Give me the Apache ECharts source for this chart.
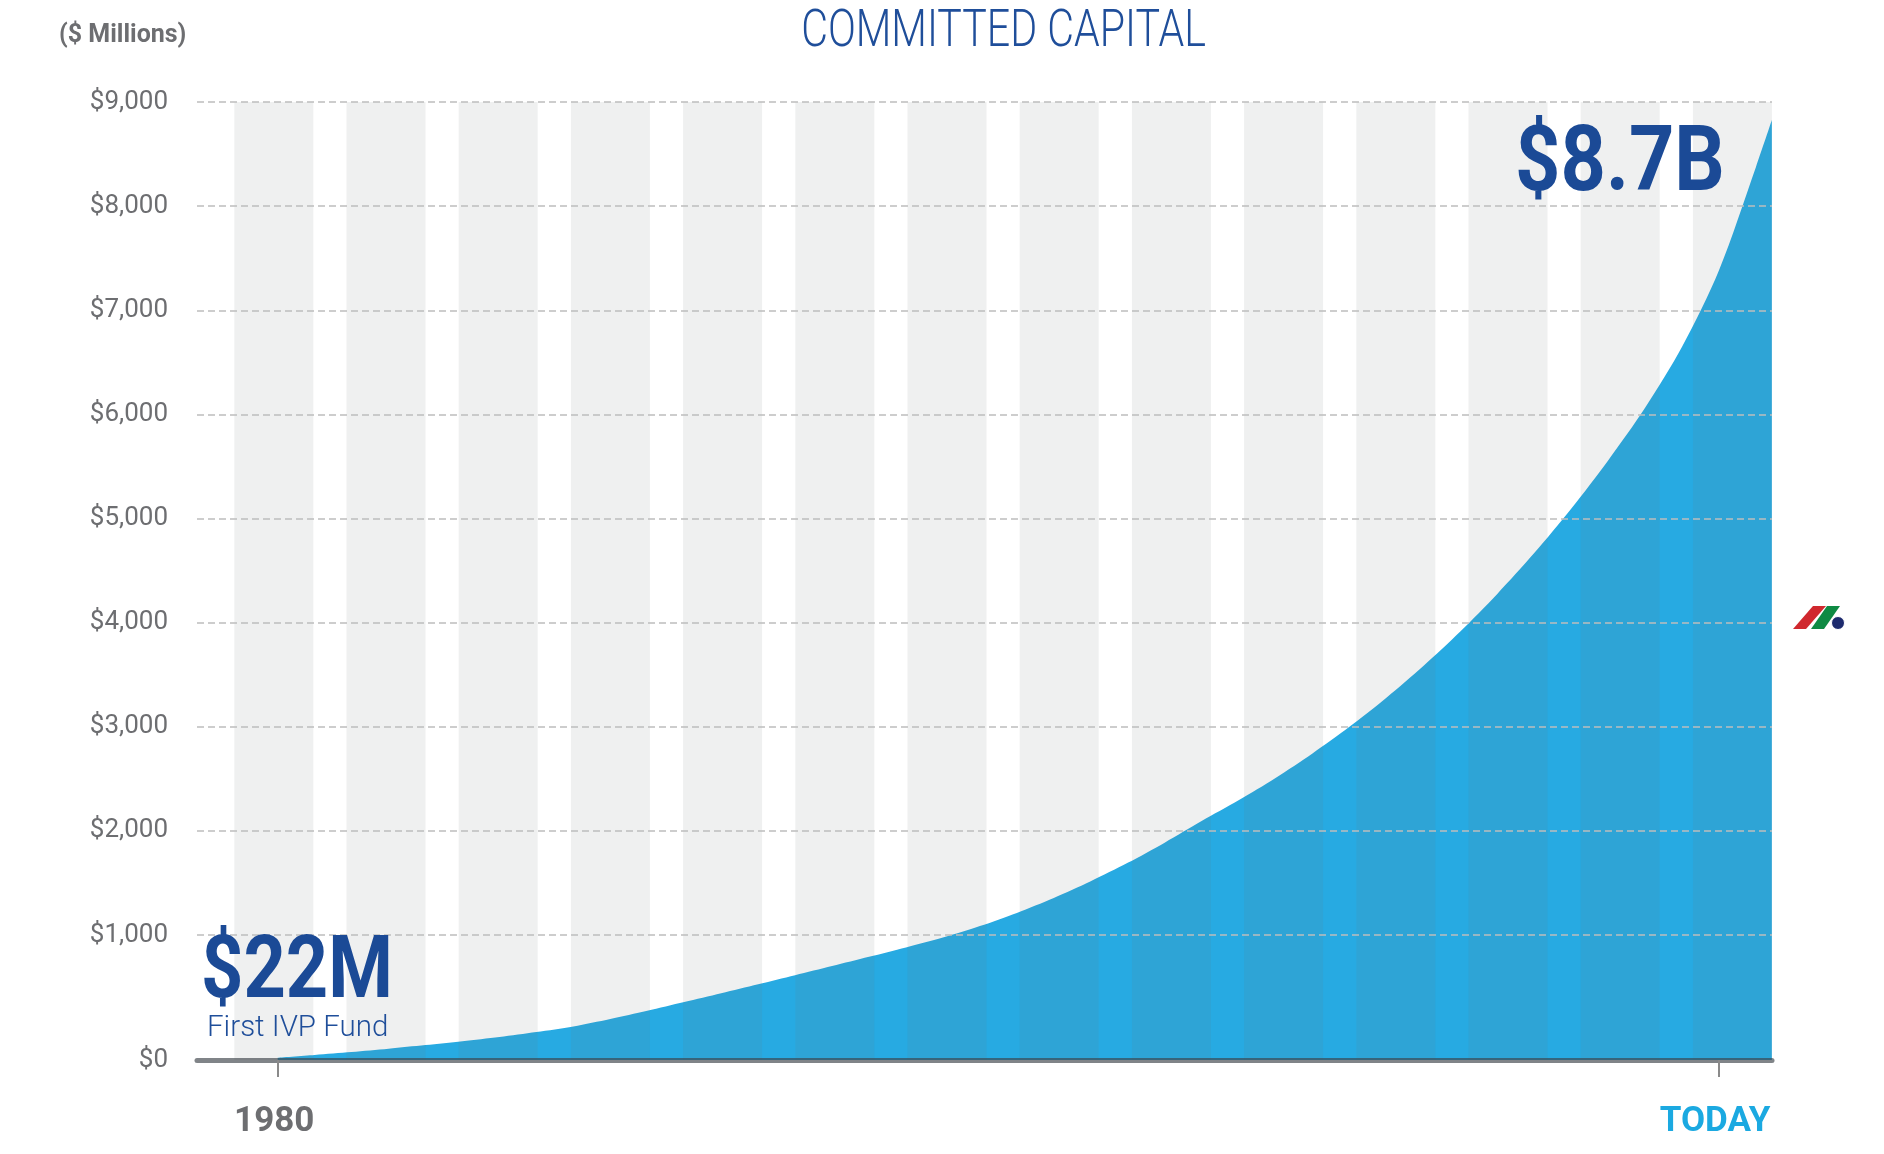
<!DOCTYPE html>
<html>
<head>
<meta charset="utf-8">
<script src="https://cdn.jsdelivr.net/npm/echarts@6/dist/echarts.min.js"></script>
<style>
  html, body { margin: 0; padding: 0; background: #ffffff; }
  #chart { width: 1884px; height: 1154px; }
</style>
</head>
<body>
<div id="chart"></div>
<script>
// ---- data ----
const years = [1980, 1981, 1982, 1983, 1984, 1985, 1986, 1987, 1988, 1989,
               1990, 1991, 1992, 1993, 1994, 1995, 1996, 1997, 1998, 1999,
               2000, 2001, 2002, 2003, 2004, 2005, 2006, 2007, 2008, 2009,
               2010, 2011, 2012, 2013, 2014, 2015, 2016, 2017, 2018, 2019,
               2020, 2020.43];
const committedCapital = [22, 48, 75, 106, 140, 176, 215, 262, 315, 385,
                          463, 545, 628, 712, 797, 883, 970, 1058, 1150, 1258,
                          1382, 1522, 1679, 1852, 2042, 2245, 2440, 2650, 2880, 3130,
                          3404, 3702, 4026, 4379, 4762, 5179, 5633, 6127, 6700, 7420,
                          8390, 8830];
const yGridValues = [1000, 2000, 3000, 4000, 5000, 6000, 7000, 8000, 9000];
const xTickValues = [1980, 2019];
const xTickLabels = ['1980', 'TODAY'];
const bandPeriods = ['P1', 'P2', 'P3', 'P4', 'P5', 'P6', 'P7', 'P8', 'P9', 'P10', 'P11', 'P12', 'P13', 'P14'];
const bandValues = [1, 1, 1, 1, 1, 1, 1, 1, 1, 1, 1, 1, 1, 1];
const titleText = 'COMMITTED CAPITAL';
const unitText = '($ Millions)';
const endLabel = '$8.7B';
const startLabel = '$22M';
const startSub = 'First IVP Fund';

const chart = echarts.init(document.getElementById('chart'), null, { renderer: 'canvas' });

const option = {
  animation: false,
  backgroundColor: '#ffffff',
  grid: [
    { left: 197, right: 112, top: 102, bottom: 94, containLabel: false },
    { left: 217.7, right: 95.5, top: 102, bottom: 94, containLabel: false }
  ],
  xAxis: [
    {
      type: 'value', gridIndex: 0, min: 1977.816, max: 2020.434,
      z: 5,
      axisLine: { show: true, onZero: false, lineStyle: { color: 'rgba(60,66,72,0.65)', width: 5 } },
      axisTick: { show: true, customValues: xTickValues, length: 17, lineStyle: { color: '#8a8a8a', width: 2 } },
      axisLabel: {
        show: true, customValues: xTickValues, margin: 45,
        formatter: function (v) {
          const i = xTickValues.indexOf(v);
          if (i < 0) return '';
          return (i === 0 ? '{a|' : '{b|') + xTickLabels[i] + '}';
        },
        rich: {
          a: { color: '#6d6e71', fontFamily: 'Roboto', fontWeight: 'bold', fontSize: 35, padding: [0, 7, 0, 0] },
          b: { color: '#1ba9e1', fontFamily: 'Roboto', fontWeight: 'bold', fontSize: 35, padding: [0, 8, 0, 0] }
        }
      },
      splitLine: { show: false }
    },
    {
      type: 'category', gridIndex: 1, data: bandPeriods, show: false, boundaryGap: true
    }
  ],
  yAxis: [
    {
      type: 'value', gridIndex: 0, min: -200, max: 9000, splitNumber: 9,
      minInterval: 1000, maxInterval: 1000,
      axisLine: { show: false }, axisTick: { show: false },
      splitLine: { show: false },
      axisLabel: {
        show: true, showMinLabel: true, showMaxLabel: true, margin: 29,
        color: '#6d6e71', fontFamily: 'Roboto', fontSize: 26,
        padding: [0, 0, 9, 0],
        formatter: function (v) {
          if (v < 0) return '$0';
          if (v === 0) return '';
          return '$' + v.toLocaleString('en-US');
        }
      }
    },
    { type: 'value', gridIndex: 0, min: 0, max: 9000, show: false },
    { type: 'value', gridIndex: 1, min: 0, max: 1, show: false }
  ],
  series: [
    {
      name: 'grid',
      type: 'line', xAxisIndex: 0, yAxisIndex: 0, data: [], z: 1, silent: true,
      markLine: {
        silent: true, symbol: ['none', 'none'], animation: false,
        label: { show: false },
        lineStyle: { color: '#bdbdbd', width: 1.5, type: [7, 4] },
        emphasis: { disabled: true },
        data: yGridValues.map(v => ({ yAxis: v }))
      }
    },
    {
      name: 'Committed capital',
      type: 'line', xAxisIndex: 0, yAxisIndex: 1, z: 2,
      smooth: 0.3, showSymbol: false, silent: true,
      lineStyle: { width: 0 },
      areaStyle: { color: '#27aae2', opacity: 1 },
      data: years.map((y, i) => [y, committedCapital[i]])
    },
    {
      name: 'bands',
      type: 'bar', xAxisIndex: 1, yAxisIndex: 2, z: 3, silent: true,
      barWidth: 79,
      itemStyle: { color: 'rgba(105,118,118,0.11)' },
      data: bandValues
    }
  ],
  graphic: [
    {
      type: 'text', x: 1003.5, y: 33, scaleX: 0.807, z: 100,
      style: { text: titleText, fontFamily: 'Roboto', fontWeight: 300, fontSize: 51, fill: '#1f4e9a',
               align: 'center', verticalAlign: 'middle', textAlign: 'center', textVerticalAlign: 'middle' }
    },
    {
      type: 'text', x: 59, y: 36, z: 100,
      style: { text: unitText, fontFamily: 'Roboto', fontWeight: 'bold', fontSize: 25, fill: '#6d6e71',
               align: 'left', verticalAlign: 'middle', textAlign: 'left', textVerticalAlign: 'middle' }
    },
    {
      type: 'text', x: 1620, y: 167, scaleX: 0.88, z: 100,
      style: { text: endLabel, fontFamily: 'Roboto', fontWeight: 'bold', fontSize: 90, fill: '#1b4a96',
               align: 'center', verticalAlign: 'middle', textAlign: 'center', textVerticalAlign: 'middle' }
    },
    {
      type: 'text', x: 201, y: 975, scaleX: 0.85, z: 100,
      style: { text: startLabel, fontFamily: 'Roboto', fontWeight: 'bold', fontSize: 87, fill: '#1b4a96',
               align: 'left', verticalAlign: 'middle', textAlign: 'left', textVerticalAlign: 'middle' }
    },
    {
      type: 'text', x: 207, y: 1029, z: 100,
      style: { text: startSub, fontFamily: 'Roboto', fontWeight: 300, fontSize: 29.5, fill: '#1f4e9a',
               align: 'left', verticalAlign: 'middle', textAlign: 'left', textVerticalAlign: 'middle' }
    },
    {
      type: 'polygon', z: 100,
      shape: { points: [[1793, 629], [1806, 629], [1826, 606], [1813, 606]] },
      style: { fill: '#d0282e' }
    },
    {
      type: 'polygon', z: 100,
      shape: { points: [[1811, 629], [1824, 629], [1840, 606], [1827, 606]] },
      style: { fill: '#0f8a43' }
    },
    {
      type: 'circle', z: 101,
      shape: { cx: 1838, cy: 623, r: 6.5 },
      style: { fill: '#1d2a6e', stroke: '#ffffff', lineWidth: 1 }
    }
  ]
};

chart.setOption(option);
</script>
</body>
</html>
